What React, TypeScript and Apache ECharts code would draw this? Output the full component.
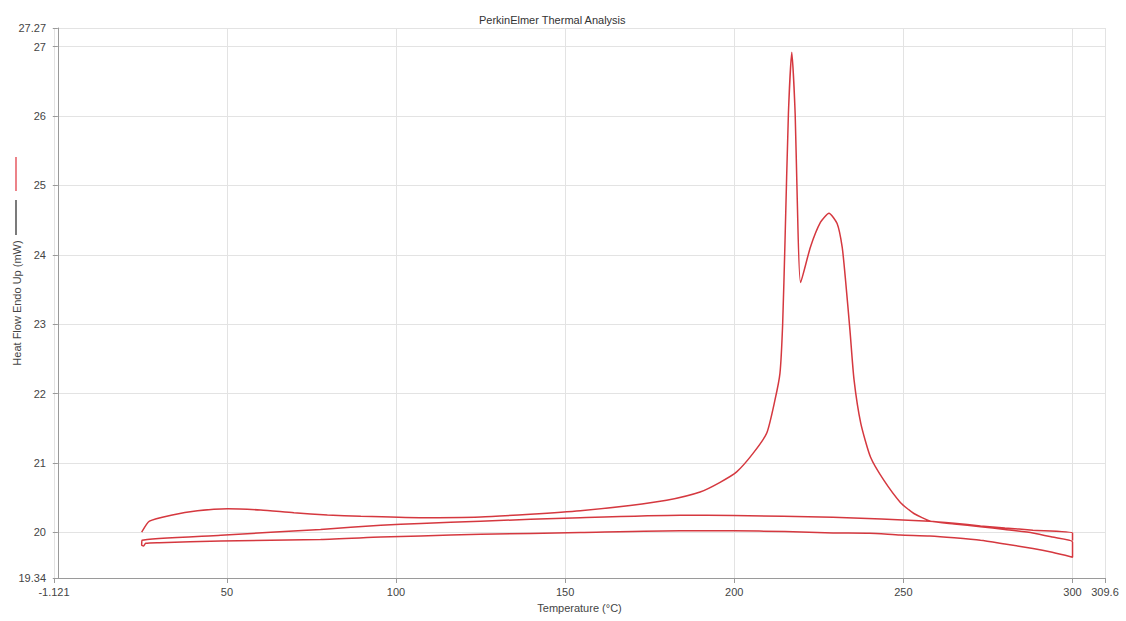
import React, { useEffect, useRef } from "react";
import * as echarts from "echarts";

// Heating 1 (with melting peaks)
const heating1T = [24.8, 27.1, 33.5, 41.3, 50.2, 60, 69.8, 79.7, 89.6, 107, 125, 139.7, 154.5, 169.2, 180, 189.9, 195.8, 200.7, 205.6, 209.6, 212, 213.5, 214.3, 215, 216, 217, 218, 218.6, 219.6, 222.5, 225.5, 228, 230.4, 231.9, 232.9, 234.2, 235.4, 237.4, 240.3, 244.2, 249.1, 253.1, 258, 265, 272.8, 280, 288.3, 294, 300];
const heating1HF = [20.0, 20.16, 20.245, 20.31, 20.34, 20.32, 20.28, 20.25, 20.23, 20.21, 20.22, 20.26, 20.31, 20.385, 20.46, 20.58, 20.72, 20.87, 21.14, 21.43, 21.9, 22.29, 23.0, 24.2, 26.03, 26.92, 26.03, 24.83, 23.6, 24.11, 24.47, 24.6, 24.45, 24.11, 23.63, 22.91, 22.2, 21.57, 21.08, 20.75, 20.43, 20.27, 20.16, 20.12, 20.08, 20.04, 19.99, 19.93, 19.86];

// Cooling (lower trace), from 300 back to start
const coolingT = [300, 294, 288.3, 280, 272.8, 265, 257.8, 249, 240, 229.2, 215, 199.7, 184, 154.5, 125, 107.3, 95.5, 77.7, 48.2, 30, 26, 25.3, 24.8];
const coolingHF = [19.64, 19.71, 19.765, 19.83, 19.885, 19.92, 19.945, 19.96, 19.985, 19.99, 20.01, 20.02, 20.02, 19.995, 19.97, 19.947, 19.93, 19.895, 19.875, 19.85, 19.84, 19.8, 19.815];

// Heating 2 (middle trace)
const heating2T = [24.8, 24.9, 48.2, 77.7, 95.5, 107.3, 125, 154.5, 184, 199.7, 229.2, 257.8, 265, 272.8, 280, 288.3, 300, 300];
const heating2HF = [19.815, 19.885, 19.957, 20.04, 20.1, 20.125, 20.16, 20.21, 20.245, 20.24, 20.215, 20.16, 20.13, 20.09, 20.06, 20.03, 19.99, 19.88];

const xTicks = [-1.121, 50, 100, 150, 200, 250, 300, 309.6];
const yTicks = [19.34, 20, 21, 22, 23, 24, 25, 26, 27, 27.27];

export default function App() {
  const ref = useRef<HTMLDivElement>(null);
  useEffect(() => {
    if (!ref.current) return;
    const chart = echarts.init(ref.current, null, { renderer: "svg" });
    const data: number[][] = [];
    heating1T.forEach((t, i) => data.push([t, heating1HF[i]]));
    coolingT.forEach((t, i) => data.push([t, coolingHF[i]]));
    heating2T.forEach((t, i) => data.push([t, heating2HF[i]]));
    const labelStyle = { color: "#444", fontSize: 11, fontFamily: "Liberation Sans, Arial, sans-serif" };
    chart.setOption({
      animation: false,
      backgroundColor: "#fff",
      title: {
        text: "PerkinElmer Thermal Analysis",
        left: 474,
        top: 9,
        textStyle: { color: "#333", fontSize: 11, fontWeight: "normal", fontFamily: "Liberation Sans, Arial, sans-serif" },
      },
      grid: { left: 54, right: 21, top: 28, bottom: 43, containLabel: false, outerBoundsMode: "none" },
      xAxis: {
        type: "value",
        min: -1.121,
        max: 309.6,
        name: "Temperature (°C)",
        nameLocation: "middle",
        nameGap: 24,
        nameMoveOverlap: false,
        nameTextStyle: labelStyle,
        axisLine: { show: true, lineStyle: { color: "#9a9a9a" } },
        axisTick: { show: true, length: 5, lineStyle: { color: "#9a9a9a" }, customValues: xTicks },
        axisLabel: { ...labelStyle, margin: 8, customValues: xTicks, formatter: (v: number) => String(v) },
        splitLine: { show: true, lineStyle: { color: "#e3e3e3" } },
      },
      yAxis: {
        type: "value",
        min: 19.34,
        max: 27.27,
        name: "Heat Flow Endo Up (mW)",
        nameLocation: "middle",
        nameGap: 32,
        nameMoveOverlap: false,
        nameTextStyle: labelStyle,
        axisLine: { show: true, lineStyle: { color: "#9a9a9a" } },
        axisTick: { show: true, length: 5, lineStyle: { color: "#9a9a9a" }, customValues: yTicks },
        axisLabel: { ...labelStyle, margin: 8, customValues: yTicks, formatter: (v: number) => String(v) },
        splitLine: { show: true, lineStyle: { color: "#e3e3e3" } },
      },
      graphic: [
        { type: "line", shape: { x1: 16, y1: 157, x2: 16, y2: 191 }, style: { stroke: "#e0303a", lineWidth: 1.2 } },
        { type: "line", shape: { x1: 16, y1: 200, x2: 16, y2: 235 }, style: { stroke: "#222", lineWidth: 1.2 } },
      ],
      series: [
        {
          type: "line",
          data,
          showSymbol: false,
          smooth: 0.2,
          lineStyle: { color: "#d5383f", width: 1.5 },
        },
      ],
    });
    return () => chart.dispose();
  }, []);
  return <div ref={ref} style={{ width: 1126, height: 621, position: "absolute", left: 0, top: 0 }} />;
}
